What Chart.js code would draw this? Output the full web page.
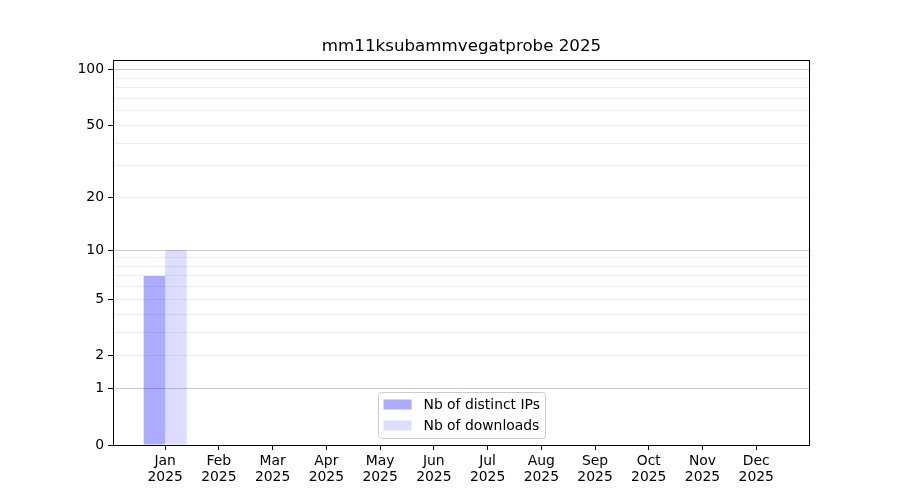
<!DOCTYPE html>
<html>
<head>
<meta charset="utf-8">
<script src="https://cdn.jsdelivr.net/npm/chart.js@4/dist/chart.umd.min.js"></script>
<style>
  html, body { margin: 0; padding: 0; background: #fff; }
</style>
</head>
<body>
<canvas id="chart" width="900" height="500"></canvas>
<script>
'use strict';

// ---- data ----
const months = ['Jan', 'Feb', 'Mar', 'Apr', 'May', 'Jun', 'Jul', 'Aug', 'Sep', 'Oct', 'Nov', 'Dec'];
const year = '2025';
const distinctIps = [7, 0, 0, 0, 0, 0, 0, 0, 0, 0, 0, 0];
const downloads = [10, 0, 0, 0, 0, 0, 0, 0, 0, 0, 0, 0];
const seriesLabels = ['Nb of distinct IPs', 'Nb of downloads'];
const chartTitle = 'mm11ksubammvegatprobe 2025';

// y grid lines / labelled ticks
const yGridValues = [0, 1, 2, 3, 4, 5, 6, 7, 8, 9, 10, 20, 30, 40, 50, 60, 70, 80, 90, 100];
const yTickLabels = [0, 1, 2, 5, 10, 20, 50, 100];
const yMajor = [1, 10, 100];
const yMax = 113;

const FONT = 'DejaVu Sans';

// ---- log10(1+x) scale ----
class Log1pScale extends Chart.Scale {
  determineDataLimits() {
    this.min = this.options.min ?? 0;
    this.max = this.options.max ?? this.getMinMax(false).max;
  }
  buildTicks() {
    return yGridValues.filter(v => v >= this.min && v <= this.max).map(v => ({value: v}));
  }
  configure() {
    super.configure();
    this._lo = Math.log10(1 + this.min);
    this._span = Math.log10(1 + this.max) - this._lo;
  }
  getLabelForValue(v) {
    return String(v);
  }
  getPixelForValue(v) {
    if (v === null || v === undefined || isNaN(v)) return NaN;
    return this.getPixelForDecimal((Math.log10(1 + v) - this._lo) / this._span);
  }
  getValueForPixel(p) {
    return Math.pow(10, this._lo + this.getDecimalForPixel(p) * this._span) - 1;
  }
}
Log1pScale.id = 'log1p';
Log1pScale.defaults = {};
Chart.register(Log1pScale);

const colors = ['rgba(0,0,255,0.33)', 'rgba(0,0,255,0.135)'];

// title, frame and legend drawn inside the plot like matplotlib does
const extras = {
  id: 'extras',
  afterDraw(chart) {
    const ctx = chart.ctx;
    const a = chart.chartArea;
    ctx.save();

    // frame
    ctx.strokeStyle = '#000';
    ctx.lineWidth = 1;
    ctx.strokeRect(Math.round(a.left) + 0.5, Math.round(a.top) + 0.5,
      Math.round(a.right - a.left) - 1, Math.round(a.bottom - a.top));

    // title
    ctx.fillStyle = '#000';
    ctx.font = '16.7px "' + FONT + '"';
    ctx.textAlign = 'center';
    ctx.textBaseline = 'middle';
    ctx.fillText(chartTitle, (a.left + a.right) / 2, 47);

    // legend
    ctx.font = '13.9px "' + FONT + '"';
    const bw = 167, bh = 46;
    const bx = Math.round((a.left + a.right) / 2 - bw / 2) + 0.5;
    const by = Math.round(a.bottom - 7 - bh) + 0.5;
    ctx.beginPath();
    ctx.roundRect(bx, by, bw, bh, 3);
    ctx.fillStyle = 'rgba(255,255,255,0.8)';
    ctx.fill();
    ctx.strokeStyle = '#cccccc';
    ctx.stroke();
    ctx.textAlign = 'left';
    chart.data.datasets.forEach((ds, i) => {
      const cy = by + 12 + i * 21;
      ctx.fillStyle = ds.backgroundColor;
      ctx.fillRect(bx + 5, cy - 5, 28, 10);
      ctx.fillStyle = '#000';
      ctx.fillText(ds.label, bx + 45, cy + 1);
    });
    ctx.restore();
  }
};

new Chart(document.getElementById('chart'), {
  type: 'bar',
  data: {
    datasets: [
      {
        label: seriesLabels[0],
        backgroundColor: colors[0],
        data: distinctIps.map((v, i) => ({x: i, y: v})),
      },
      {
        label: seriesLabels[1],
        backgroundColor: colors[1],
        data: downloads.map((v, i) => ({x: i, y: v})),
      },
    ],
  },
  options: {
    responsive: false,
    animation: false,
    devicePixelRatio: 1,
    layout: {padding: {top: 60, right: 90, bottom: 0, left: 0}},
    datasets: {bar: {categoryPercentage: 0.8, barPercentage: 1.0, borderWidth: 0}},
    font: {family: FONT, size: 13.9},
    scales: {
      x: {
        type: 'linear',
        min: -0.97,
        max: 12.0,
        offset: false,
        afterBuildTicks: s => { s.ticks = months.map((m, i) => ({value: i})); },
        afterFit: s => { s.height = 55; },
        border: {display: false},
        grid: {offset: false, drawOnChartArea: false, tickLength: 5, tickColor: '#000'},
        ticks: {
          autoSkip: false,
          maxRotation: 0,
          padding: 3,
          color: '#000',
          font: {family: FONT, size: 13.9, lineHeight: 1.15},
          callback: (v, i) => [months[i], year],
        },
      },
      y: {
        type: 'log1p',
        min: 0,
        max: yMax,
        afterFit: s => { s.width = 113; },
        border: {display: false},
        grid: {
          color: c => {
            const v = c.tick ? c.tick.value : null;
            if (v === 0) return 'rgba(0,0,0,0)';
            return yMajor.includes(v) ? 'rgba(0,0,0,0.2)' : 'rgba(0,0,0,0.07)';
          },
          tickColor: c => (c.tick && yTickLabels.includes(c.tick.value)) ? '#000' : 'rgba(0,0,0,0)',
          tickLength: 5,
        },
        ticks: {
          autoSkip: false,
          padding: 4,
          color: '#000',
          font: {family: FONT, size: 13.9},
          callback: v => yTickLabels.includes(v) ? String(v) : '',
        },
      },
    },
    plugins: {
      legend: {display: false},
      title: {display: false},
      tooltip: {enabled: false},
    },
  },
  plugins: [extras],
});
</script>
</body>
</html>
